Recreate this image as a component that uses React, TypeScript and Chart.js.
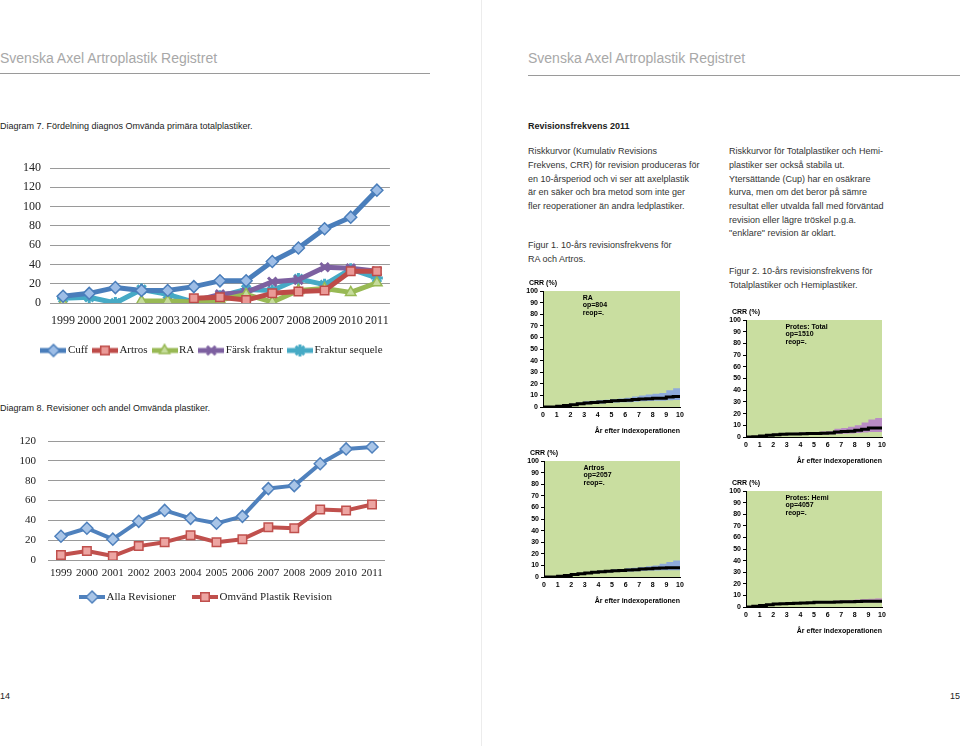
import React, { useEffect, useRef } from "react";
import { Chart, registerables } from "chart.js";
import { drawPoint } from "chart.js/helpers";

Chart.register(...registerables);

const SANS = "'Liberation Sans', Arial, Helvetica, sans-serif";
const SERIF = "'Liberation Serif', 'Times New Roman', serif";

// ---------- Diagram 7 ----------
const years = ["1999", "2000", "2001", "2002", "2003", "2004", "2005", "2006", "2007", "2008", "2009", "2010", "2011"];
const cuff = [7, 10, 16, 13, 13, 17, 23, 23, 43, 57, 77, 89, 117];
const artros = [null, null, null, null, null, 5, 6, 3, 10, 12, 13, 33, 33];
const ra = [0, null, null, 2, 2, 1, 3, 9, 1, 13, 15, 11, 21];
const farskFraktur = [null, null, null, null, 0, 2, 9, 11, 22, 24, 37, 36, 33];
const frakturSequele = [5, 6, 0, 14, 9, 1, 7, 14, 13, 25, 19, 35, 26];

// ---------- Diagram 8 ----------
const allaRevisioner = [24, 32, 21, 39, 50, 42, 37, 44, 72, 75, 97, 112, 114];
const omvandRevision = [5, 9, 4, 14, 18, 25, 18, 21, 33, 32, 51, 50, 56];

// ---------- CRR curves ----------
const crrYears = [0, 0.5, 1, 1.5, 2, 2.5, 3, 3.5, 4, 4.5, 5, 5.5, 6, 6.5, 7, 7.5, 8, 8.5, 9, 9.5, 10];

const raEst = [0, 0, 0.6, 1.2, 2.0, 2.8, 3.5, 3.9, 4.3, 4.8, 5.3, 5.6, 5.8, 6.5, 6.9, 7.2, 7.5, 7.6, 8.6, 9.0, 9.2];
const raUpper = [0, 0.3, 1.0, 1.8, 2.8, 3.8, 4.9, 5.4, 5.8, 6.2, 6.6, 7.3, 8.0, 9.0, 10.0, 10.8, 11.5, 12.0, 14.4, 16.2, 17.9];
const raLower = [0, 0, 0.3, 0.7, 1.3, 1.9, 2.4, 2.7, 3.0, 3.4, 3.8, 4.0, 4.2, 4.6, 4.9, 5.1, 5.3, 5.4, 5.9, 6.1, 6.3];

const artrosEst = [0, 0, 0.7, 1.4, 2.2, 2.9, 3.5, 4.0, 4.5, 4.9, 5.3, 5.7, 6.0, 6.3, 6.8, 7.2, 7.5, 7.8, 8.0, 8.0, 8.0];
const artrosUpper = [0, 0.3, 1.0, 1.8, 2.7, 3.5, 4.2, 4.8, 5.3, 5.8, 6.4, 7.0, 7.5, 8.0, 8.6, 9.3, 10.0, 11.5, 13.0, 14.2, 15.2];
const artrosLower = [0, 0, 0.4, 1.0, 1.7, 2.3, 2.8, 3.3, 3.7, 4.0, 4.3, 4.6, 4.8, 5.0, 5.3, 5.5, 5.7, 5.8, 5.8, 5.8, 5.8];

const totalEst = [0, 0.3, 0.9, 1.4, 1.9, 2.3, 2.5, 2.6, 2.7, 2.9, 3.0, 3.1, 3.4, 4.3, 4.6, 5.0, 5.7, 6.6, 7.7, 7.7, 7.7];
const totalUpper = [0, 0.6, 1.4, 2.0, 2.7, 3.1, 3.4, 3.6, 3.8, 4.0, 4.3, 4.6, 4.9, 7.1, 7.7, 8.8, 10.0, 12.5, 14.9, 16.3, 17.7];
const totalLower = [0, 0.1, 0.5, 0.9, 1.3, 1.6, 1.8, 1.9, 2.0, 2.1, 2.2, 2.2, 2.3, 2.6, 2.8, 3.0, 3.4, 3.8, 4.2, 4.2, 4.2];

const hemiEst = [0, 0.7, 1.4, 2.0, 2.5, 2.8, 3.0, 3.2, 3.4, 3.7, 4.0, 4.1, 4.2, 4.4, 4.5, 4.6, 4.8, 4.9, 5.0, 5.0, 5.0];
const hemiUpper = [0, 1.0, 1.8, 2.5, 3.0, 3.4, 3.6, 3.9, 4.1, 4.4, 4.8, 5.0, 5.2, 5.5, 5.7, 6.0, 6.4, 6.8, 7.2, 7.5, 7.7];
const hemiLower = [0, 0.4, 1.0, 1.5, 2.0, 2.3, 2.5, 2.6, 2.8, 3.0, 3.3, 3.4, 3.5, 3.6, 3.7, 3.7, 3.8, 3.8, 3.9, 3.9, 3.9];

const raLabel = ["RA", "op=804", "reop=."];
const artrosLabel = ["Artros", "op=2057", "reop=."];
const totalLabel = ["Protes: Total", "op=1510", "reop=."];
const hemiLabel = ["Protes: Hemi", "op=4057", "reop=."];

// ---------- helpers ----------
function makeIcon(line: string, lw: number, style: any, radius: number, fill: string, border: string, bw: number, w = 26, h = 16) {
  const c = document.createElement("canvas");
  c.width = w;
  c.height = h;
  const ctx = c.getContext("2d")!;
  ctx.strokeStyle = line;
  ctx.lineWidth = lw;
  ctx.beginPath();
  ctx.moveTo(0, h / 2);
  ctx.lineTo(w, h / 2);
  ctx.stroke();
  ctx.fillStyle = fill;
  ctx.strokeStyle = border;
  ctx.lineWidth = bw;
  drawPoint(ctx, { pointStyle: style, radius, rotation: 0, borderWidth: bw } as any, w / 2, h / 2);
  return c;
}

type Spec = { label: string; data: (number | null)[]; color: string; fill: string; style: any; r: number; bw: number };

function ExcelLine(props: {
  left: number; top: number; width: number; height: number;
  specs: Spec[]; yMax: number; yStep: number; lineWidth: number;
  padTop: number; padRight: number; padBottom: number; yWidth: number; xHeight: number;
  tickSize: number; xPad: number; yPad: number; legendSize: number; legendPad: number; legendShift: number;
}) {
  const ref = useRef<HTMLCanvasElement>(null);
  useEffect(() => {
    const p = props;
    const icons = p.specs.map((s) => makeIcon(s.color, p.lineWidth, s.style, s.r, s.fill, s.color, s.bw));
    const shift = {
      id: "legendShift",
      afterLayout(c: any) {
        if (c.legend) {
          c.legend.left += p.legendShift;
          c.legend.right += p.legendShift;
        }
      },
    };
    const chart = new Chart(ref.current!, {
      type: "line",
      data: {
        labels: years,
        datasets: p.specs.map((s) => ({
          label: s.label,
          data: s.data,
          borderColor: s.color,
          borderWidth: p.lineWidth,
          borderJoinStyle: "round",
          pointStyle: s.style,
          pointRadius: s.r,
          pointBackgroundColor: s.fill,
          pointBorderColor: s.color,
          pointBorderWidth: s.bw,
          fill: false,
          tension: 0,
          spanGaps: false,
        })) as any,
      },
      options: {
        animation: false,
        responsive: false,
        devicePixelRatio: 1,
        layout: { padding: { top: p.padTop, right: p.padRight, bottom: p.padBottom, left: 0 } },
        plugins: {
          tooltip: { enabled: false },
          legend: {
            position: "bottom",
            labels: {
              usePointStyle: true,
              pointStyleWidth: 18,
              padding: p.legendPad,
              color: "#222",
              font: { family: SERIF, size: p.legendSize },
              generateLabels: (c: any) =>
                c.data.datasets.map((ds: any, i: number) => ({
                  text: ds.label,
                  pointStyle: icons[i],
                  fillStyle: "transparent",
                  strokeStyle: "transparent",
                  lineWidth: 0,
                  hidden: false,
                  datasetIndex: i,
                  fontColor: "#222",
                })),
            },
          },
        },
        scales: {
          x: {
            offset: true,
            grid: { display: false, drawTicks: false },
            border: { display: false },
            ticks: { font: { family: SERIF, size: p.tickSize }, color: "#222", padding: p.xPad, autoSkip: false, maxRotation: 0 },
            afterFit: (s: any) => {
              s.height = p.xHeight;
              s._computeLabelArea = () => undefined;
            },
          },
          y: {
            min: 0,
            max: p.yMax,
            ticks: { stepSize: p.yStep, font: { family: SERIF, size: p.tickSize }, color: "#222", padding: p.yPad },
            grid: { color: "#9a9a9a", drawTicks: false, lineWidth: 1 },
            border: { display: false },
            afterFit: (s: any) => { s.width = p.yWidth; },
          },
        },
      } as any,
      plugins: [shift],
    });
    return () => chart.destroy();
  }, []);
  return (
    <canvas
      ref={ref}
      width={props.width}
      height={props.height}
      style={{ position: "absolute", left: props.left, top: props.top, width: props.width, height: props.height }}
    />
  );
}

function CRRChart(props: {
  plotLeft: number; plotTop: number; plotW: number; plotH: number;
  est: number[]; upper: number[]; lower: number[]; lines: string[]; band: string;
}) {
  const ref = useRef<HTMLCanvasElement>(null);
  const padL = 24, padT = 14, padR = 8, xH = 32;
  const w = props.plotW + padL + padR;
  const h = props.plotH + padT + xH;
  useEffect(() => {
    const p = props;
    const toPts = (arr: number[]) => crrYears.map((x, i) => ({ x, y: arr[i] }));
    const font = { family: SANS, size: 7, weight: "bold" as const };
    const decor = {
      id: "crrDecor",
      beforeDraw(c: any) {
        const { ctx, chartArea: a } = c;
        ctx.save();
        ctx.fillStyle = "#c9dea0";
        ctx.fillRect(a.left, a.top, a.right - a.left, a.bottom - a.top);
        ctx.restore();
      },
      afterDraw(c: any) {
        const { ctx, chartArea: a } = c;
        ctx.save();
        ctx.fillStyle = "#000";
        ctx.font = "bold 7px " + SANS;
        ctx.textBaseline = "middle";
        ctx.textAlign = "left";
        ctx.fillText("CRR (%)", a.left - 14, a.top - 8);
        const x0 = c.scales.x.getPixelForValue(2.9);
        p.lines.forEach((t, i) => ctx.fillText(t, x0, a.top + 7 + i * 7.5));
        ctx.restore();
      },
    };
    const chart = new Chart(ref.current!, {
      type: "line",
      data: {
        datasets: [
          { data: toPts(p.lower), order: 2, borderWidth: 0, pointRadius: 0, fill: false, stepped: true, borderColor: "transparent" },
          { data: toPts(p.upper), order: 1, borderWidth: 0, pointRadius: 0, fill: "-1", backgroundColor: p.band, stepped: true, borderColor: "transparent" },
          { data: toPts(p.est), order: 0, borderWidth: 3, pointRadius: 0, fill: false, stepped: true, borderColor: "#000" },
        ] as any,
      },
      options: {
        animation: false,
        responsive: false,
        devicePixelRatio: 1,
        layout: { padding: { top: padT, right: padR, bottom: 0, left: 0 } },
        plugins: { legend: { display: false }, tooltip: { enabled: false } },
        scales: {
          x: {
            type: "linear",
            min: 0,
            max: 10,
            ticks: { stepSize: 1, font, color: "#000", padding: 4, autoSkip: false, maxRotation: 0 },
            grid: { display: false, drawTicks: false },
            border: { display: true, color: "#000", width: 1 },
            title: { display: true, text: "År efter indexoperationen", align: "end", font, color: "#000", padding: { top: 0, bottom: 4 } },
            afterFit: (s: any) => { s.height = xH; },
          },
          y: {
            min: 0,
            max: 100,
            ticks: { stepSize: 10, font, color: "#000", padding: 2 },
            grid: { drawOnChartArea: false, drawTicks: true, tickLength: 3, color: "#000" },
            border: { display: true, color: "#000", width: 1 },
            afterFit: (s: any) => { s.width = padL; },
          },
        },
      } as any,
      plugins: [decor],
    });
    return () => chart.destroy();
  }, []);
  return (
    <canvas
      ref={ref}
      width={w}
      height={h}
      style={{ position: "absolute", left: props.plotLeft - padL, top: props.plotTop - padT, width: w, height: h }}
    />
  );
}

function Txt(props: { x: number; y: number; size?: number; color?: string; bold?: boolean; lh?: number; children: any }) {
  const size = props.size ?? 9;
  const lh = props.lh ?? 13.7;
  return (
    <div
      style={{
        position: "absolute",
        left: props.x,
        top: props.y - lh / 2,
        fontFamily: SANS,
        fontSize: size,
        lineHeight: lh + "px",
        color: props.color ?? "#333",
        fontWeight: props.bold ? "bold" : "normal",
        whiteSpace: "pre",
      }}
    >
      {props.children}
    </div>
  );
}

export default function App() {
  const d7: Spec[] = [
    { label: "Cuff", data: cuff, color: "#4a7ebb", fill: "#9dbde6", style: "rectRot", r: 6, bw: 1.5 },
    { label: "Artros", data: artros, color: "#be4b48", fill: "#ea9a97", style: "rect", r: 6, bw: 1.5 },
    { label: "RA", data: ra, color: "#98b954", fill: "#c6dc9c", style: "triangle", r: 6, bw: 1.5 },
    { label: "Färsk fraktur", data: farskFraktur, color: "#7d60a0", fill: "#7d60a0", style: "crossRot", r: 6, bw: 3 },
    { label: "Fraktur sequele", data: frakturSequele, color: "#46aac5", fill: "#46aac5", style: "star", r: 6, bw: 3 },
  ];
  const d8: Spec[] = [
    { label: "Alla Revisioner", data: allaRevisioner, color: "#4f81bd", fill: "#a9c5e7", style: "rectRot", r: 6, bw: 1.5 },
    { label: "Omvänd Plastik Revision", data: omvandRevision, color: "#c0504d", fill: "#eda5a2", style: "rect", r: 6, bw: 1.5 },
  ];
  return (
    <div style={{ position: "absolute", left: 0, top: 0, width: 960, height: 746, background: "#fff", overflow: "hidden" }}>
      {/* page divider */}
      <div style={{ position: "absolute", left: 481, top: 0, width: 1, height: 746, background: "#ececec" }} />

      {/* headers */}
      <Txt x={0} y={58} size={14} color="#a8a8a8" lh={17}>Svenska Axel Artroplastik Registret</Txt>
      <div style={{ position: "absolute", left: 0, top: 73, width: 430, height: 1, background: "#9a9a9a" }} />
      <Txt x={528} y={58} size={14} color="#a8a8a8" lh={17}>Svenska Axel Artroplastik Registret</Txt>
      <div style={{ position: "absolute", left: 528, top: 75, width: 432, height: 1, background: "#9a9a9a" }} />

      {/* left page */}
      <Txt x={0} y={127} color="#1a1a1a">Diagram 7. Fördelning diagnos Omvända primära totalplastiker.</Txt>
      <ExcelLine
        left={0} top={150} width={400} height={222}
        specs={d7} yMax={140} yStep={20} lineWidth={5}
        padTop={18} padRight={7} padBottom={6} yWidth={50} xHeight={34}
        tickSize={12} xPad={11} yPad={9} legendSize={11} legendPad={8} legendShift={17}
      />
      <Txt x={0} y={409} color="#1a1a1a">Diagram 8. Revisioner och andel Omvända plastiker.</Txt>
      <ExcelLine
        left={0} top={420} width={400} height={200}
        specs={d8} yMax={120} yStep={20} lineWidth={4}
        padTop={21} padRight={15} padBottom={7.5} yWidth={48} xHeight={11.5}
        tickSize={11} xPad={6.5} yPad={12} legendSize={11} legendPad={20} legendShift={15}
      />
      <Txt x={0} y={697} size={9} color="#222">14</Txt>

      {/* right page */}
      <Txt x={528} y={127} bold color="#1a1a1a">Revisionsfrekvens 2011</Txt>
      <Txt x={528} y={152}>{"Riskkurvor (Kumulativ Revisions\nFrekvens, CRR) för revision produceras för\nen 10-årsperiod och vi ser att axelplastik\när en säker och bra metod som inte ger\nfler reoperationer än andra ledplastiker."}</Txt>
      <Txt x={528} y={246}>{"Figur 1. 10-års revisionsfrekvens för\nRA och Artros."}</Txt>
      <Txt x={729} y={152}>{"Riskkurvor för Totalplastiker och Hemi-\nplastiker ser också stabila ut.\nYtersättande (Cup) har en osäkrare\nkurva, men om det beror på sämre\nresultat eller utvalda fall med förväntad\nrevision eller lägre tröskel p.g.a.\n\"enklare\" revision är oklart."}</Txt>
      <Txt x={729} y={272}>{"Figur 2. 10-års revisionsfrekvens för\nTotalplastiker och Hemiplastiker."}</Txt>

      <CRRChart plotLeft={543} plotTop={291} plotW={137} plotH={116} est={raEst} upper={raUpper} lower={raLower} lines={raLabel} band="#8eaadb" />
      <CRRChart plotLeft={544} plotTop={461} plotW={136} plotH={116} est={artrosEst} upper={artrosUpper} lower={artrosLower} lines={artrosLabel} band="#8eaadb" />
      <CRRChart plotLeft={746} plotTop={320} plotW={136} plotH={117} est={totalEst} upper={totalUpper} lower={totalLower} lines={totalLabel} band="#b98cc4" />
      <CRRChart plotLeft={746} plotTop={491} plotW={136} plotH={116} est={hemiEst} upper={hemiUpper} lower={hemiLower} lines={hemiLabel} band="#c49bbf" />

      <Txt x={950} y={697} size={9} color="#222">15</Txt>
    </div>
  );
}
